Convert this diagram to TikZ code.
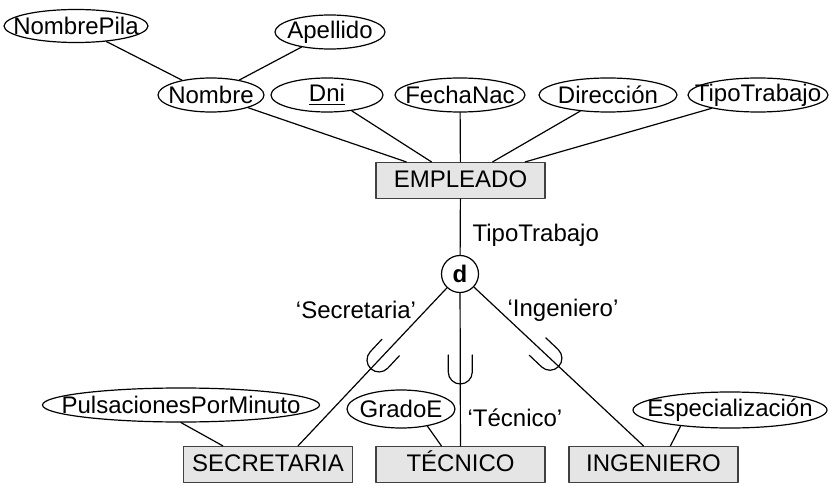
\documentclass[tikz,border=0pt]{standalone}
\usepackage{fontspec}
\setmainfont{Liberation Sans}
\usetikzlibrary{shapes.geometric,calc}
\begin{document}
\begin{tikzpicture}[x=0.5pt,y=-0.5pt, font=\fontsize{12}{14}\selectfont, line join=round, line cap=round, line width=0.6pt,
	atrib/.style={ellipse,draw,inner xsep=-40pt,inner ysep=0pt,minimum height=17pt,minimum width=#1},
	entidad/.style={rectangle,draw=black!75,fill=black!10,minimum width=84.5pt,minimum height=18pt,text height=0.72em,text depth=0pt},
	circulo/.style={circle,draw,inner sep=0pt,minimum size=18.5pt},
	etiq/.style={inner sep=0pt},
	subc/.pic={\draw (8.5pt,6pt) -- (0pt,6pt) arc (90:270:6pt) -- (8.5pt,-6pt);}]
	\useasboundingbox (0,0) rectangle (829,486);
	% EMPLEADO y sus atributos
	\node[atrib=72pt, minimum height=16.5pt] (pila) at (76,26) {NombrePila};
	\node[atrib=55pt] (apellido) at (330,32) {Apellido};
	\node[atrib=53pt] (nombre) at (211,95) {Nombre};
	\node[atrib=56pt] (dni) at (327,95) {\underline{Dni}};
	\node[atrib=65pt] (fecha) at (460,95) {FechaNac};
	\node[atrib=69pt] (dir) at (608,95) {Dirección};
	\node[atrib=70pt] (tipo) at (758,95) {TipoTrabajo};
	\node[entidad] (emp) at (460.5,180.5) {EMPLEADO};
	\node[circulo] (d) at (460,274) {\bfseries d};
	\node[etiq, anchor=west] (ltipo) at (472,235) {TipoTrabajo};
	% subclases
	\node[entidad] (sec) at (268,464.5) {SECRETARIA};
	\node[entidad] (tec) at (460.5,464.5) {TÉCNICO};
	\node[entidad] (ing) at (653.5,464.5) {INGENIERO};
	\node[atrib=138.5pt] (puls) at (181,405) {PulsacionesPorMinuto};
	\node[atrib=54pt, minimum height=19pt] (grado) at (401,409) {GradoE};
	\node[atrib=97pt, minimum height=18pt] (esp) at (730,410) {Especialización};
	\node[etiq] (lsec) at (356,310) {‘Secretaria’};
	\node[etiq] (ling) at (563,310) {‘Ingeniero’};
	\node[etiq, anchor=west] (ltec) at (467,418) {‘Técnico’};
	\coordinate (secend) at ([xshift=15pt]sec.north);
	\coordinate (ingend) at ([xshift=-5pt]ing.north);
	\draw (pila) -- (nombre) (apellido) -- (nombre);
	\foreach \a in {nombre,dni,fecha,dir,tipo} \draw (\a) -- (emp);
	\draw (emp) -- (d);
	\draw (d) -- (secend) (d) -- (tec) (d) -- (ingend);
	\draw (puls.south) -- ([xshift=20pt]sec.north west);
	\draw (grado.-33) -- ([xshift=33pt]tec.north west);
	\draw (esp.-162) -- ([xshift=51pt]ing.north west);
	\pic[rotate=46.9] at ($(d.center)!0.5!(secend)$) {subc};
	\pic[rotate=90] at ($(d.center)!0.57!(tec.north)$) {subc};
	\pic[rotate=136.6] at ($(d.center)!0.49!(ingend)$) {subc};
\end{tikzpicture}
\end{document}
